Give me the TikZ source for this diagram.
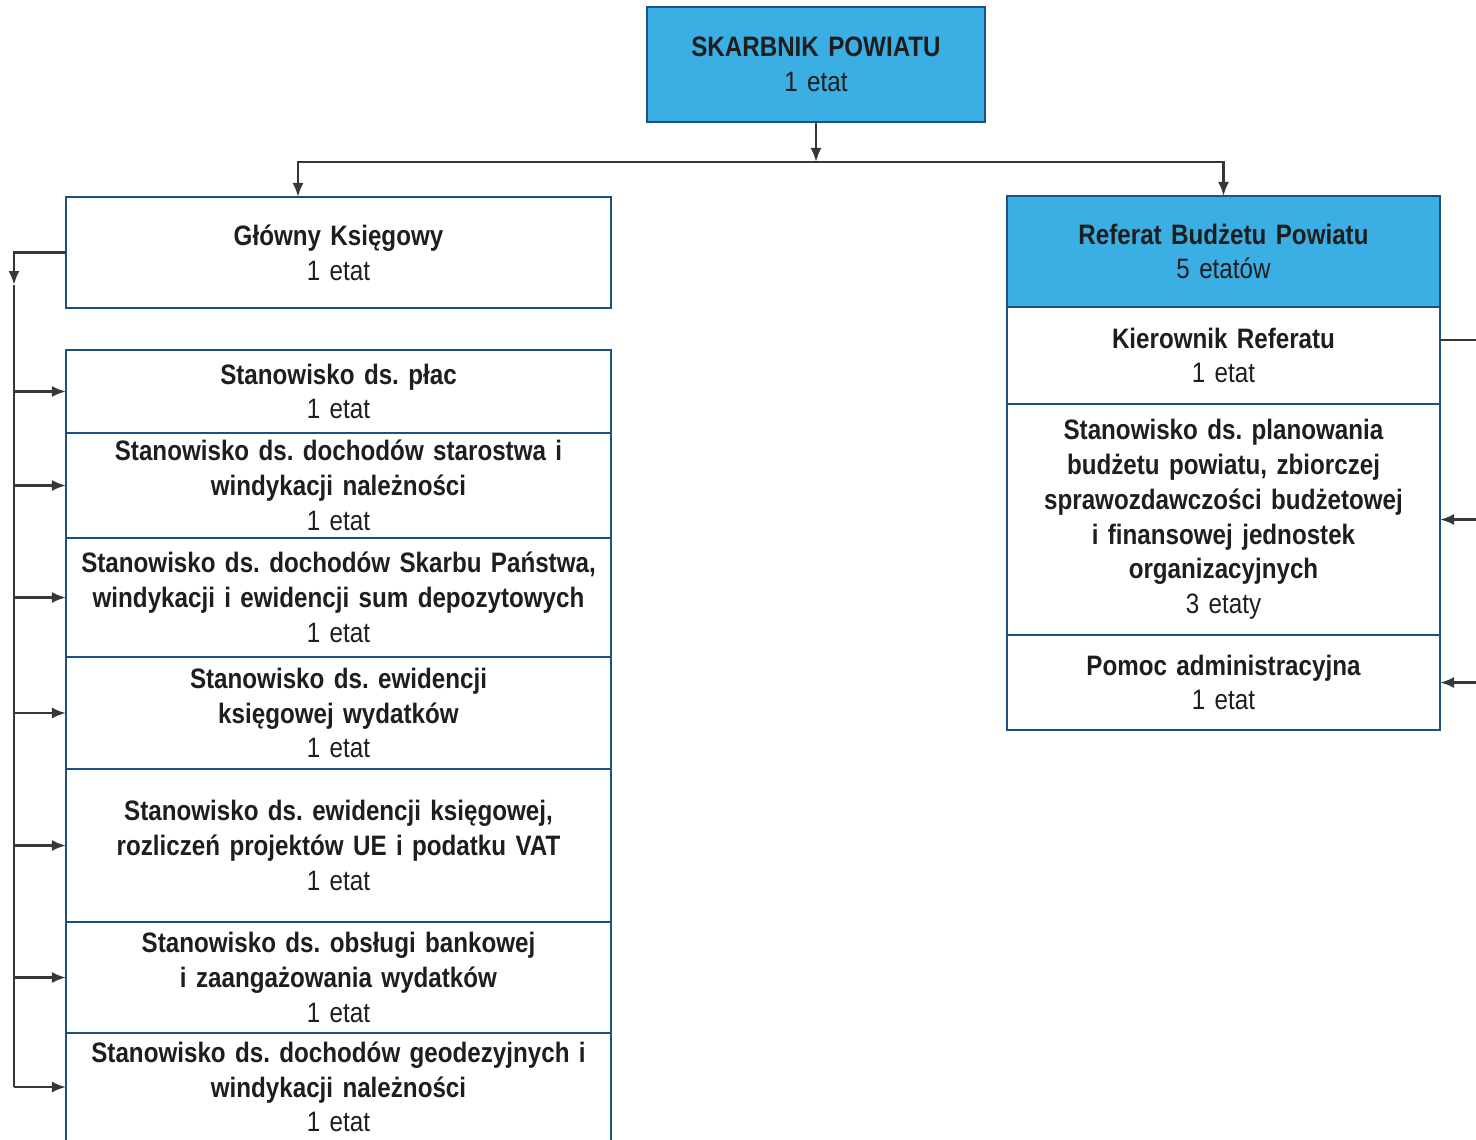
\documentclass[tikz,border=0pt]{standalone}
\usepackage{fontspec}
\setmainfont{Liberation Sans}[FakeStretch=0.86]
\usepackage{tikz}
\usetikzlibrary{positioning,arrows.meta}
\definecolor{bdr}{RGB}{30,80,125}
\definecolor{fillblue}{RGB}{59,174,227}
\definecolor{ln}{RGB}{55,55,55}
\definecolor{txt}{RGB}{30,30,30}
\frenchspacing
\hyphenpenalty=10000

\tikzset{
	box/.style={draw=bdr, line width=1.4pt, outer sep=0pt, inner xsep=0.5mm, inner ysep=0pt, align=center, text=txt, font=\fontsize{16}{19.8}\selectfont},
	leftbox/.style={box, text width=108mm},
	rightbox/.style={box, text width=85.6mm},
	bluebox/.style={fill=fillblue},
	arr/.style={draw=ln, line width=1.4pt, -{Latex[length=2.8mm,width=2.2mm]}},
	ln/.style={draw=ln, line width=1.4pt}
}

\begin{document}
\begin{tikzpicture}[x=0.2mm, y=-0.2mm]
	\useasboundingbox (0,0) rectangle (1476,1139);
	\node[box, bluebox, text width=66.6mm, minimum height=23mm] (skarbnik) at (816,64.5) {\textbf{SKARBNIK POWIATU}\\1 etat};
	\node[leftbox, minimum height=22.2mm] (glowny) at (338.5,252.5) {\textbf{Główny Księgowy}\\1 etat};
	\node[rightbox, bluebox, minimum height=22.2mm, anchor=north] (referat) at (1223.5,196) {\textbf{Referat Budżetu Powiatu}\\5 etatów};
	\node[rightbox, minimum height=19.4mm, below=0pt of referat] (kier) {\textbf{Kierownik Referatu}\\1 etat};
	\node[rightbox, minimum height=46.2mm, below=0pt of kier] (plan) {\textbf{Stanowisko ds. planowania}\\\textbf{budżetu powiatu, zbiorczej}\\\textbf{sprawozdawczości budżetowej}\\\textbf{i finansowej jednostek}\\\textbf{organizacyjnych}\\3 etaty};
	\node[rightbox, minimum height=19mm, below=0pt of plan] (pomoc) {\textbf{Pomoc administracyjna}\\1 etat};

	\node[leftbox, minimum height=16.6mm, anchor=north] (place) at (338.5,350) {\textbf{Stanowisko ds. płac}\\1 etat};
	\node[leftbox, minimum height=21mm, below=0pt of place] (starostwo) {\textbf{Stanowisko ds. dochodów starostwa i}\\\textbf{windykacji należności}\\1 etat};
	\node[leftbox, minimum height=23.8mm, below=0pt of starostwo] (skarb) {\textbf{Stanowisko ds. dochodów Skarbu Państwa,}\\\textbf{windykacji i ewidencji sum depozytowych}\\1 etat};
	\node[leftbox, minimum height=22.4mm, below=0pt of skarb] (wydatki) {\textbf{Stanowisko ds. ewidencji}\\\textbf{księgowej wydatków}\\1 etat};
	\node[leftbox, minimum height=30.6mm, below=0pt of wydatki] (vat) {\textbf{Stanowisko ds. ewidencji księgowej,}\\\textbf{rozliczeń projektów UE i podatku VAT}\\1 etat};
	\node[leftbox, minimum height=22.2mm, below=0pt of vat] (bank) {\textbf{Stanowisko ds. obsługi bankowej}\\\textbf{i zaangażowania wydatków}\\1 etat};
	\node[leftbox, minimum height=21.6mm, below=0pt of bank] (geo) {\textbf{Stanowisko ds. dochodów geodezyjnych i}\\\textbf{windykacji należności}\\1 etat};

	\coordinate (hub) at (816,162);
	\coordinate (lbus) at (14,252);
	\coordinate (ldown) at (14,285);
	\coordinate (rbus) at (1476,340);

	\draw[arr] (skarbnik.south) -- (hub);
	\draw[arr] (hub) -| (298,0 |- glowny.north);
	\draw[arr] (hub) -| (referat.north);
	\draw[arr] (glowny.west) -| (ldown);
	\draw[ln] (ldown) -- (lbus |- geo.west);
	\foreach \r in {place,starostwo,skarb,wydatki,vat,bank,geo}
		\draw[arr] (lbus |- \r.west) -- (\r.west);
	\draw[ln] (rbus) -- (rbus -| kier.east);
	\draw[arr] (rbus |- plan.east) -- (plan.east);
	\draw[arr] (rbus |- pomoc.east) -- (pomoc.east);
\end{tikzpicture}
\end{document}
